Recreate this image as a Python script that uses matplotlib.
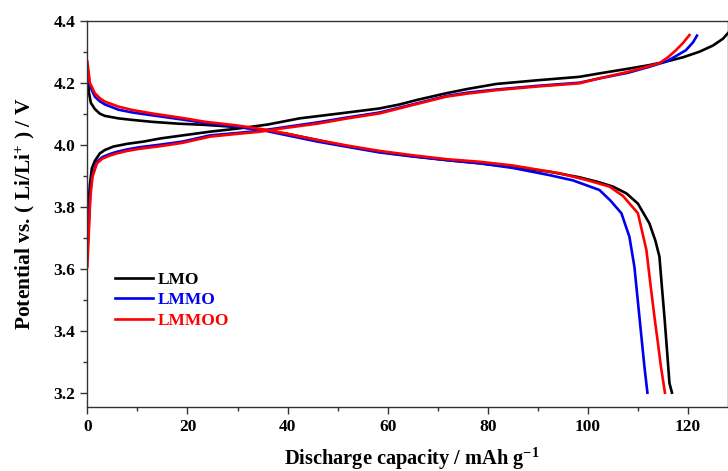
import matplotlib
matplotlib.use("Agg")
import matplotlib.pyplot as plt
from matplotlib.ticker import MultipleLocator

plt.rcParams["font.family"] = "Liberation Serif"
plt.rcParams["font.weight"] = "bold"
plt.rcParams["mathtext.fontset"] = "custom"
plt.rcParams["mathtext.rm"] = "Liberation Serif:bold"
plt.rcParams["mathtext.bf"] = "Liberation Serif:bold"
plt.rcParams["mathtext.it"] = "Liberation Serif:bold"

# charge branches (potential rising with capacity)
lmo_chg_x = [0, 0.2, 0.5, 0.9, 1.5, 2.5, 3.5, 5.2, 8, 11.2, 14.5, 19, 24.5, 30, 36, 42.4, 50, 58.4,
             62.4, 66, 71.7, 76, 81.7, 90, 98.3, 102.3, 108, 112, 115.6, 119, 122.3, 125, 127, 128]
lmo_chg_y = [3.72, 3.80, 3.87, 3.924, 3.948, 3.972, 3.983, 3.994, 4.003, 4.01, 4.02, 4.03, 4.042, 4.052,
             4.065, 4.085, 4.1, 4.117, 4.13, 4.145, 4.166, 4.18, 4.196, 4.208, 4.219, 4.23, 4.245, 4.256,
             4.268, 4.282, 4.3, 4.32, 4.342, 4.36]

lmmo_chg_x = [0, 0.3, 0.6, 1.0, 1.9, 3, 4.5, 5.9, 8, 10.5, 14.5, 19, 24.5, 30, 34.5, 40, 46, 52, 58.4,
              65, 71.7, 76, 81.7, 90, 98.3, 102.3, 108, 112, 115.6, 117.5, 119.6, 121, 121.8]
lmmo_chg_y = [3.65, 3.75, 3.85, 3.90, 3.945, 3.96, 3.97, 3.977, 3.985, 3.992, 4.0, 4.01, 4.03, 4.038,
              4.045, 4.058, 4.072, 4.088, 4.104, 4.13, 4.157, 4.168, 4.178, 4.19, 4.2, 4.214, 4.232, 4.25,
              4.268, 4.285, 4.305, 4.33, 4.352]

lmmoo_chg_x = [0, 0.3, 0.6, 1.0, 1.9, 3, 4.5, 5.9, 8, 10.5, 14.5, 19, 24.5, 30, 34.5, 40, 46, 52, 58.4,
               65, 71.7, 76, 81.7, 90, 98.3, 102.3, 108, 111, 114.3, 116, 117.6, 119, 120.3]
lmmoo_chg_y = [3.606, 3.72, 3.83, 3.895, 3.94, 3.955, 3.965, 3.972, 3.98, 3.987, 3.995, 4.006, 4.026,
               4.035, 4.042, 4.055, 4.068, 4.085, 4.101, 4.128, 4.155, 4.165, 4.176, 4.188, 4.198, 4.214,
               4.235, 4.248, 4.263, 4.282, 4.305, 4.328, 4.354]

# discharge branches (potential falling with capacity)
lmo_dis_x = [0, 0.3, 0.7, 1.5, 2.5, 3.5, 6.2, 9, 12.8, 18, 23.5, 30, 35, 40, 46, 52, 58.4, 65, 72, 78.4,
             85, 92.3, 98.3, 102, 105, 107.7, 110, 112.3, 113.5, 114.3, 114.8, 115.3, 115.8, 116.3, 116.8]
lmo_dis_y = [4.235, 4.17, 4.135, 4.115, 4.1, 4.093, 4.085, 4.08, 4.074, 4.068, 4.064, 4.057, 4.048, 4.035,
             4.015, 3.995, 3.977, 3.963, 3.95, 3.94, 3.928, 3.913, 3.895, 3.88, 3.865, 3.843, 3.81, 3.746,
             3.69, 3.639, 3.54, 3.445, 3.34, 3.231, 3.2]

lmmo_dis_x = [0, 0.5, 1.5, 2.5, 3.5, 6.2, 9, 12.9, 19.5, 23.5, 30, 35, 40, 46, 52, 58.4, 65, 72, 78.4, 85,
              92.3, 97, 102.3, 104.5, 106.7, 108.3, 109.3, 110.3, 111.3, 111.9]
lmmo_dis_y = [4.25, 4.19, 4.155, 4.14, 4.13, 4.113, 4.104, 4.095, 4.08, 4.07, 4.058, 4.047, 4.03, 4.01,
              3.993, 3.975, 3.962, 3.95, 3.94, 3.925, 3.902, 3.885, 3.854, 3.82, 3.779, 3.703, 3.606,
              3.445, 3.284, 3.2]

lmmoo_dis_x = [0, 0.5, 1.5, 2.5, 3.5, 6.2, 9, 12.9, 19.5, 23.5, 30, 35, 40, 46, 52, 58.4, 65, 72, 78.4,
               85, 94.3, 100, 104.3, 107, 110, 111.7, 112.5, 113.3, 114, 114.6, 115.4]
lmmoo_dis_y = [4.268, 4.2, 4.166, 4.15, 4.139, 4.123, 4.112, 4.101, 4.085, 4.074, 4.062, 4.05, 4.035,
               4.015, 3.997, 3.98, 3.966, 3.953, 3.945, 3.933, 3.908, 3.885, 3.865, 3.835, 3.779, 3.66,
               3.55, 3.445, 3.36, 3.284, 3.2]

samples = ["LMO", "LMMO", "LMMOO"]
colors = ["black", "#0000ee", "#ff0000"]
charge = [(lmo_chg_x, lmo_chg_y), (lmmo_chg_x, lmmo_chg_y), (lmmoo_chg_x, lmmoo_chg_y)]
discharge = [(lmo_dis_x, lmo_dis_y), (lmmo_dis_x, lmmo_dis_y), (lmmoo_dis_x, lmmoo_dis_y)]

fig = plt.figure(figsize=(7.28, 4.71), dpi=100)
ax = fig.add_axes([0.12, 0.136, 0.88, 0.82])

for name, color, (cx, cy), (dx, dy) in zip(samples, colors, charge, discharge):
    ax.plot(cx, cy, color=color, lw=1.9, label=name, solid_joinstyle="round")
    ax.plot(dx, dy, color=color, lw=1.9, solid_joinstyle="round")

ax.set_xlim(0, 128)
ax.set_ylim(3.154, 4.4)
ax.xaxis.set_major_locator(MultipleLocator(20))
ax.xaxis.set_minor_locator(MultipleLocator(10))
ax.yaxis.set_major_locator(MultipleLocator(0.2))
ax.yaxis.set_minor_locator(MultipleLocator(0.1))
ax.yaxis.set_major_formatter(plt.FuncFormatter(lambda v, p: f"{v:.1f}"))
ax.tick_params(which="major", direction="out", length=5, width=1, labelsize=12.5, color="#333333")
ax.tick_params(which="minor", direction="out", length=3, width=1, color="#333333")
for side in ["left", "bottom", "top", "right"]:
    ax.spines[side].set_color("#333333")
    ax.spines[side].set_linewidth(1)

ax.set_xlabel(r"Discharge capacity / mAh g$^{\mathbf{-1}}$", fontsize=14.7, fontweight="bold", labelpad=6)
ax.xaxis.set_label_coords(0.507, -0.1)
ax.xaxis.label.set_va("top")
ax.set_ylabel(r"Potential vs. ( Li/Li$^{\mathbf{+}}$ ) / V", fontsize=15.5, fontweight="bold", labelpad=12)

leg = ax.legend(loc="upper left", bbox_to_anchor=(0.043, 0.35), frameon=False, fontsize=12.5,
                handlelength=2.2, handletextpad=0.25, labelspacing=0.25, borderpad=0, borderaxespad=0,
                labelcolor="linecolor")

fig.savefig("out.png", dpi=100)
